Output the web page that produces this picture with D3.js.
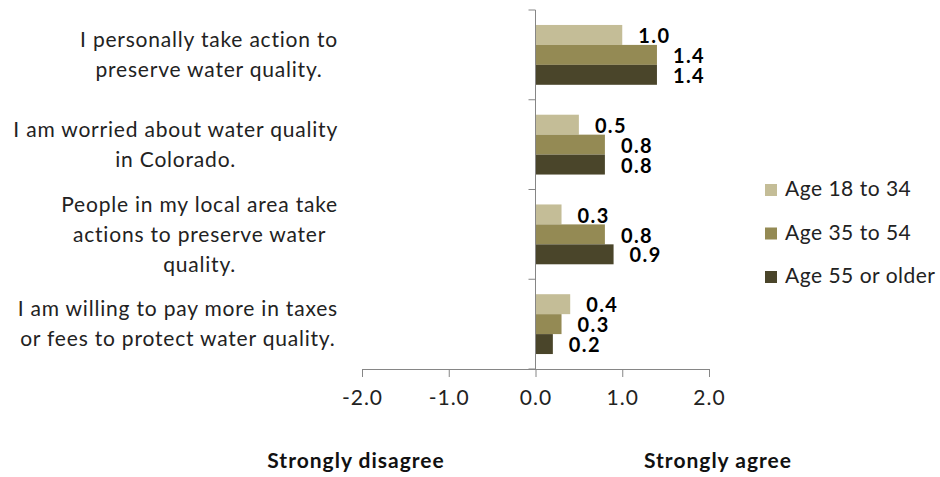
<!DOCTYPE html>
<html><head><meta charset="utf-8">
<script src="https://cdn.jsdelivr.net/npm/d3@7"></script>
<style>body{margin:0;background:#fff}svg{display:block}text{font-family:Lato,"Open Sans",sans-serif}</style>
</head><body>
<svg id="c" width="940" height="477"></svg>
<script>
const categories = [
  ["I personally take action to","preserve water quality."],
  ["I am worried about water quality","in Colorado."],
  ["People in my local area take","actions to preserve water","quality."],
  ["I am willing to pay more in taxes","or fees to protect water quality."]
];
const seriesNames = ["Age 18 to 34","Age 35 to 54","Age 55 or older"];
const age18to34 = [1.0, 0.5, 0.3, 0.4];
const age35to54 = [1.4, 0.8, 0.8, 0.3];
const age55plus = [1.4, 0.8, 0.9, 0.2];
const seriesColors = ["#C4BD97","#948A54","#4A452A"];
const xTicks = [-2, -1, 0, 1, 2];
const axisTitles = ["Strongly disagree","Strongly agree"];

const series = [age18to34, age35to54, age55plus];
const svg = d3.select("#c");
const axisColor = "#868686";

const x = d3.scaleLinear().domain([-2, 2]).range([362, 709]);
const catIdx = d3.range(categories.length);
const y = d3.scaleBand().domain(catIdx).range([10, 369]).paddingInner(0).paddingOuter(0);
const y1 = d3.scaleBand().domain(d3.range(series.length)).range([y.bandwidth()/6, y.bandwidth()*5/6]);

// bars
series.forEach((vals, s) => {
  svg.append("g").selectAll("rect").data(vals).join("rect")
    .attr("x", d => x(Math.min(0, d)))
    .attr("y", (d, i) => y(i) + y1(s))
    .attr("width", d => Math.abs(x(d) - x(0)))
    .attr("height", y1.bandwidth())
    .attr("fill", seriesColors[s]);
  svg.append("g").selectAll("text").data(vals).join("text")
    .attr("x", d => x(d) + 16)
    .attr("y", (d, i) => y(i) + y1(s) + y1.bandwidth()/2 + 3)
    .attr("dominant-baseline", "middle")
    .attr("font-size", 20).attr("font-weight", "bold").attr("letter-spacing", 1.4).attr("fill", "#000")
    .text(d => d.toFixed(1));
});

// x axis
const xAxis = svg.append("g").attr("transform", `translate(0,${y.range()[1]})`)
  .call(d3.axisBottom(x).tickValues(xTicks).tickSize(8).tickSizeOuter(0).tickPadding(13).tickFormat(d => d.toFixed(1)));
xAxis.select(".domain").attr("stroke", axisColor);
xAxis.selectAll(".tick line").attr("stroke", axisColor);
xAxis.selectAll(".tick text").attr("font-size", 21).attr("letter-spacing", 1).attr("fill", "#222").attr("font-family", "Lato");

// y axis (vertical line at 0 with category boundary ticks)
const bounds = catIdx.map(i => y(i)).concat([y.range()[1]]);
svg.append("line").attr("x1", x(0)).attr("x2", x(0)).attr("y1", y.range()[0]).attr("y2", y.range()[1]).attr("stroke", axisColor);
svg.append("g").selectAll("line").data(bounds).join("line")
  .attr("x1", x(0) - 7).attr("x2", x(0)).attr("y1", d => d).attr("y2", d => d).attr("stroke", axisColor);

// category labels
const lineH = 30;
const catText = svg.append("g").selectAll("text").data(categories).join("text")
  .attr("text-anchor", "middle").attr("font-size", 21).attr("letter-spacing", 0.8).attr("fill", "#222")
  .each(function(lines, i) {
    const t = d3.select(this);
    const cy = y(i) + y.bandwidth()/2 + 2;
    lines.forEach((ln, k) => {
      t.append("tspan").attr("x", 0).attr("y", cy + (k - (lines.length - 1)/2) * lineH)
        .attr("dominant-baseline", "middle").text(ln);
    });
  });
// right edge of each label block at x=338
catText.each(function() {
  const bb = this.getBBox();
  const dx = 338 - (bb.x + bb.width);
  d3.select(this).attr("transform", `translate(${dx},0)`);
});

// axis titles
svg.append("text").attr("x", 356).attr("y", 463).attr("text-anchor", "middle").attr("dominant-baseline", "middle")
  .attr("font-size", 21).attr("letter-spacing", 1).attr("font-weight", "bold").attr("fill", "#111").text(axisTitles[0]);
svg.append("text").attr("x", 718).attr("y", 463).attr("text-anchor", "middle").attr("dominant-baseline", "middle")
  .attr("font-size", 21).attr("letter-spacing", 1).attr("font-weight", "bold").attr("fill", "#111").text(axisTitles[1]);

// legend
const lg = svg.append("g").attr("transform", "translate(765,190)");
const row = lg.selectAll("g").data(seriesNames).join("g").attr("transform", (d, i) => `translate(0,${i*43.5})`);
row.append("rect").attr("x", 0).attr("y", -6).attr("width", 12).attr("height", 12).attr("fill", (d, i) => seriesColors[i]);
row.append("text").attr("x", 20).attr("y", 1).attr("dominant-baseline", "middle")
  .attr("font-size", 21).attr("letter-spacing", 0.5).attr("fill", "#222").text(d => d);
</script>
</body></html>
